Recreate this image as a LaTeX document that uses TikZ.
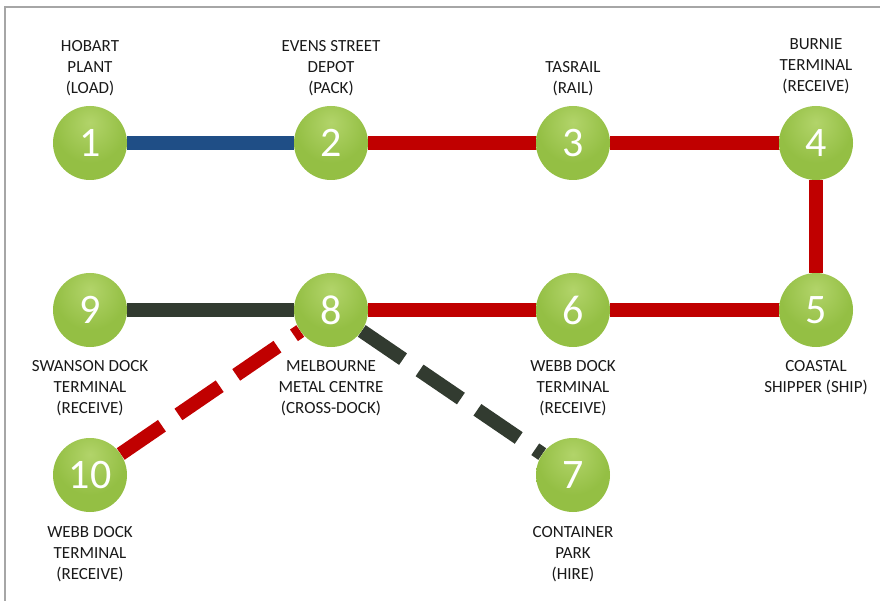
\documentclass[tikz,border=0pt]{standalone}
\usepackage{fontspec}
\setmainfont{Carlito}
\usepackage{xcolor}
\usepackage{tikz}
\usetikzlibrary{positioning}

\definecolor{linkblue}{HTML}{1F4E86}
\definecolor{linkred}{HTML}{C00000}
\definecolor{linkdark}{HTML}{323B30}
\definecolor{balllt}{HTML}{B2D46A}
\definecolor{ballmd}{HTML}{94BF44}
\definecolor{balldk}{HTML}{6F9A2B}
\definecolor{framegray}{HTML}{A6A6A6}
\pgfdeclareradialshading{stopball}{\pgfpoint{0bp}{14bp}}{%
  color(0bp)=(balllt); color(24bp)=(ballmd); color(43bp)=(ballmd);
  color(50bp)=(balldk); color(100bp)=(balldk)}
\pgfdeclarelayer{links}
\pgfsetlayers{links,main}

\begin{document}
\begin{tikzpicture}[x=1pt, y=-1pt,
    stop/.style={circle, minimum size=74pt, inner sep=0pt, shading=stopball,
      text=white, font=\fontsize{42}{42}\selectfont},
    lbl/.style={align=center, inner sep=0pt, text=black!90,
      font=\fontsize{17}{21}\selectfont},
    link/.style={line width=14pt},
    dashlink/.style={line width=14pt, dash pattern=on 50pt off 20pt}]
  \useasboundingbox (0,0) rectangle (880,601);
  \draw[framegray, line width=2pt] (880,7) -- (5,7) -- (5,601);

  % stops
  \node[stop] (n1) at (90,143) {1};
  \node[stop] (n2) at (331,143) {2};
  \node[stop] (n3) at (573,143) {3};
  \node[stop] (n4) at (816,143) {4};
  \node[stop] (n5) at (816,310) {5};
  \node[stop] (n6) at (573,310) {6};
  \node[stop] (n8) at (331,310) {8};
  \node[stop] (n9) at (90,310) {9};
  \node[stop] (n10) at (90,475) {10};
  \node[stop] (n7) at (573,475) {7};

  % names
  \node[lbl, above=10pt of n1] (l1) {HOBART\\PLANT\\(LOAD)};
  \node[lbl, above=10pt of n2] (l2) {EVENS STREET\\DEPOT\\(PACK)};
  \node[lbl, above=10pt of n3] (l3) {TASRAIL\\(RAIL)};
  \node[lbl, above=12pt of n4] (l4) {BURNIE\\TERMINAL\\(RECEIVE)};
  \node[lbl, below=13pt of n5] (l5) {COASTAL\\SHIPPER (SHIP)};
  \node[lbl, below=13pt of n6] (l6) {WEBB DOCK\\TERMINAL\\(RECEIVE)};
  \node[lbl, below=13pt of n8] (l8) {MELBOURNE\\METAL CENTRE\\(CROSS-DOCK)};
  \node[lbl, below=13pt of n9] (l9) {SWANSON DOCK\\TERMINAL\\(RECEIVE)};
  \node[lbl, below=14pt of n10] (l10) {WEBB DOCK\\TERMINAL\\(RECEIVE)};
  \node[lbl, below=14pt of n7] (l7) {CONTAINER\\PARK\\(HIRE)};

  % links
  \begin{pgfonlayer}{links}
    \draw[link, linkblue] (n1) -- (n2);
    \draw[link, linkred] (n2) -- (n3) -- (n4) -- (n5) -- (n6) -- (n8);
    \draw[link, linkdark] (n9) -- (n8);
    \draw[dashlink, linkred] (n10) -- (n8);
    \draw[dashlink, linkdark] (n8) -- (n7);
  \end{pgfonlayer}
\end{tikzpicture}
\end{document}
